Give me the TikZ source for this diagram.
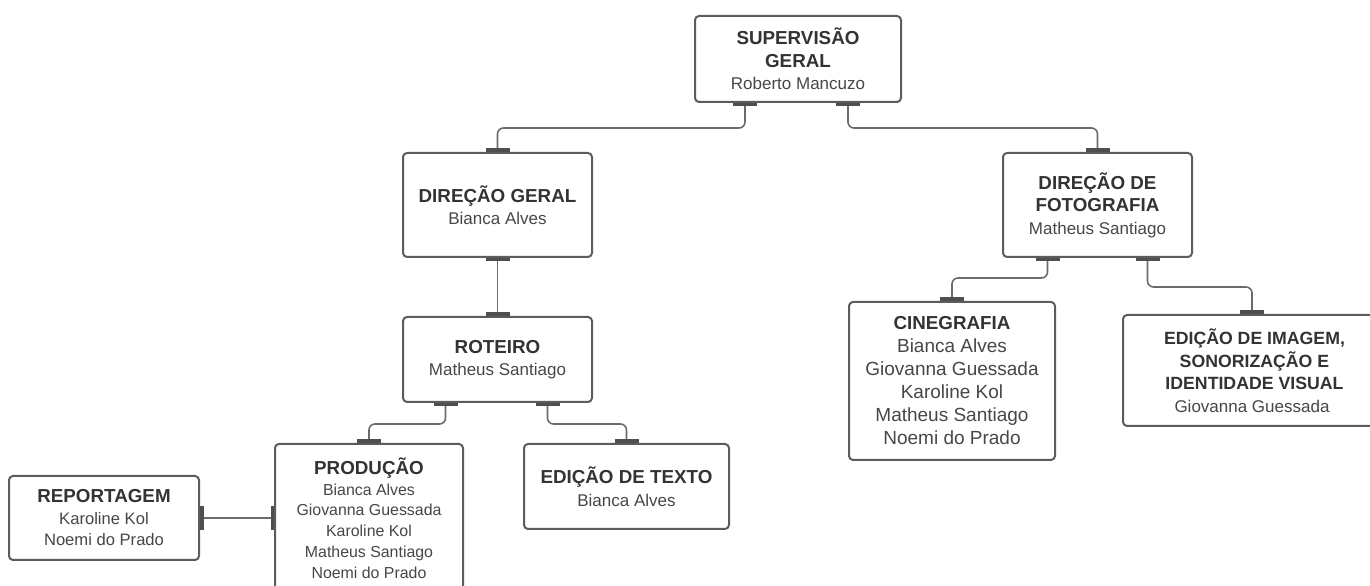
\documentclass[tikz,border=0pt]{standalone}
\usepackage{fontspec}
\setmainfont{Liberation Sans}
\usetikzlibrary{arrows.meta}
\definecolor{boxline}{HTML}{5C5C5C}
\definecolor{linkline}{HTML}{6B6B6B}
\definecolor{portbar}{HTML}{4F4F4F}
\definecolor{headtext}{HTML}{333333}
\definecolor{nametext}{HTML}{474747}
\newcommand{\hd}[1][18.8bp]{\color{headtext}\bfseries\fontsize{#1}{22.5bp}\selectfont}
\begin{document}
\begin{tikzpicture}[>=latex,line join=bevel,
  unit/.style={draw=boxline,line width=2bp,rounded corners=4bp,fill=white,align=center,inner sep=0pt,text=nametext,font=\fontsize{17bp}{22.5bp}\selectfont},
  link/.style={draw=linkline,line width=1.6bp,rounded corners=6bp,>={Bar[width=24bp,line width=3.5bp,color=portbar]},<->},
  ]
%%
\useasboundingbox (0bp,0bp) rectangle (1370bp,586bp);
\clip (0bp,0bp) rectangle (1370bp,586bp);
\node (node_sup) at (798bp,527bp) [unit,minimum width=206bp,minimum height=86bp] {{\hd SUPERVISÃO}\\{\hd GERAL}\\Roberto Mancuzo};
  \node (node_dg) at (497.5bp,381bp) [unit,minimum width=189bp,minimum height=104bp] {{\hd DIREÇÃO GERAL}\\Bianca Alves};
  \node (node_rot) at (497.5bp,226.5bp) [unit,minimum width=189bp,minimum height=85bp] {{\hd ROTEIRO}\\Matheus Santiago};
  \node (node_prod) at (369bp,68bp) [unit,minimum width=188bp,minimum height=148bp,font=\fontsize{15.9bp}{20.8bp}\selectfont] {{\hd PRODUÇÃO}\\Bianca Alves\\Giovanna Guessada\\Karoline Kol\\Matheus Santiago\\Noemi do Prado};
  \node (node_edt) at (626.5bp,99.5bp) [unit,minimum width=205bp,minimum height=85bp] {{\hd EDIÇÃO DE TEXTO}\\Bianca Alves};
  \node (node_rep) at (104bp,68bp) [unit,minimum width=190bp,minimum height=84bp,font=\fontsize{16.6bp}{21.5bp}\selectfont] {{\hd REPORTAGEM}\\Karoline Kol\\Noemi do Prado};
  \node (node_df) at (1097.5bp,381bp) [unit,minimum width=189bp,minimum height=104bp] {{\hd DIREÇÃO DE}\\{\hd FOTOGRAFIA}\\Matheus Santiago};
  \node (node_cin) at (952bp,205bp) [unit,minimum width=206bp,minimum height=158bp,font=\fontsize{19bp}{23bp}\selectfont] {{\hd CINEGRAFIA}\\Bianca Alves\\Giovanna Guessada\\Karoline Kol\\Matheus Santiago\\Noemi do Prado};
  \node (node_edi) at (1252bp,215.5bp) [unit,minimum width=258bp,minimum height=111bp] {{\hd[17.7bp] EDIÇÃO DE IMAGEM,}\\{\hd[17.7bp] SONORIZAÇÃO E}\\{\hd[17.7bp] IDENTIDADE VISUAL}\\Giovanna Guessada};
%
  \draw [link] ([xshift=-53bp]node_sup.south) -- ++(0bp,-25bp) -| (node_dg.north);
  \draw [link] ([xshift=50bp]node_sup.south) -- ++(0bp,-25bp) -| (node_df.north);
  \draw [link] (node_dg.south) -- (node_rot.north);
  \draw [link] ([xshift=-52bp]node_rot.south) -- ++(0bp,-21bp) -| (node_prod.north);
  \draw [link] ([xshift=50bp]node_rot.south) -- ++(0bp,-21bp) -| (node_edt.north);
  \draw [link] (node_rep.east) -- (node_rep.east -| node_prod.west);
  \draw [link] ([xshift=-50bp]node_df.south) -- ++(0bp,-20bp) -| (node_cin.north);
  \draw [link] ([xshift=50bp]node_df.south) -- ++(0bp,-29bp) -| (node_edi.north);
%
\end{tikzpicture}
\end{document}
